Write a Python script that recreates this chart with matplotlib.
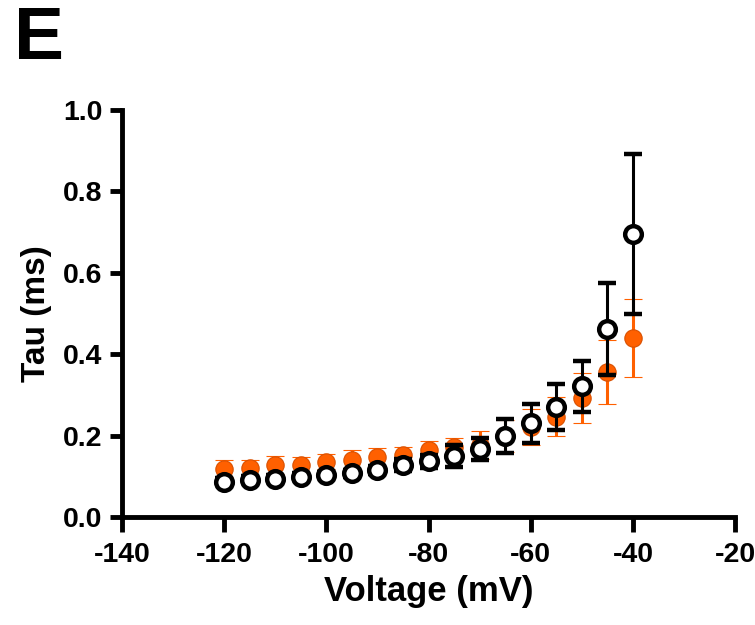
import numpy as np
import matplotlib.pyplot as plt

plt.rcParams['font.family'] = ['Liberation Sans', 'DejaVu Sans']
plt.rcParams['font.weight'] = 'bold'
plt.rcParams['axes.unicode_minus'] = False

voltage = [-120, -115, -110, -105, -100, -95, -90, -85, -80, -75, -70, -65, -60, -55, -50, -45, -40]

# open black circles
tau_black = [0.087, 0.092, 0.094, 0.099, 0.103, 0.107, 0.116, 0.128, 0.137, 0.150,
             0.168, 0.199, 0.230, 0.270, 0.321, 0.463, 0.695]
sem_black = [0.008, 0.008, 0.008, 0.008, 0.008, 0.009, 0.010, 0.014, 0.016, 0.026,
             0.027, 0.041, 0.048, 0.056, 0.063, 0.113, 0.197]

# filled orange circles
tau_orange = [0.119, 0.121, 0.127, 0.128, 0.136, 0.141, 0.147, 0.152, 0.165, 0.173,
              0.177, 0.199, 0.222, 0.246, 0.292, 0.356, 0.439]
sem_orange = [0.020, 0.020, 0.022, 0.019, 0.019, 0.024, 0.022, 0.019, 0.022, 0.020,
              0.034, 0.040, 0.044, 0.048, 0.062, 0.078, 0.096]

orange = '#FF6000'

fig = plt.figure(figsize=(7.55, 6.25), dpi=100)
ax = fig.add_axes([0.1616, 0.1728, 0.812, 0.6512])

ax.errorbar(voltage, tau_orange, yerr=sem_orange, fmt='o', color=orange,
            ms=12.5, mfc=orange, mec='#d85000', mew=0.8,
            elinewidth=2.2, capsize=6.5, capthick=2.5, zorder=2)
ax.errorbar(voltage, tau_black, yerr=sem_black, fmt='o', color='black',
            ms=12, mfc='white', mec='black', mew=3.2,
            elinewidth=2.2, capsize=6.5, capthick=2.5, zorder=3)

ax.set_xlim(-140, -20)
ax.set_ylim(0, 1.0)
ax.set_xticks(np.arange(-140, -19, 20))
ax.set_yticks(np.arange(0, 1.01, 0.2))
ax.set_yticklabels(['0.0', '0.2', '0.4', '0.6', '0.8', '1.0'])

for s in ['top', 'right']:
    ax.spines[s].set_visible(False)
for s in ['left', 'bottom']:
    ax.spines[s].set_linewidth(3.5)

ax.tick_params(axis='both', width=3.5, length=9, labelsize=20.5, pad=5)
ax.tick_params(axis='x', length=11, pad=7)

ax.set_xlabel('Voltage (mV)', fontsize=25, fontweight='bold', labelpad=5)
ax.set_ylabel('Tau (ms)', fontsize=24, fontweight='bold', labelpad=8)

fig.text(0.018, 0.905, 'E', fontsize=54, fontweight='bold')

fig.savefig('out.png', dpi=100)
